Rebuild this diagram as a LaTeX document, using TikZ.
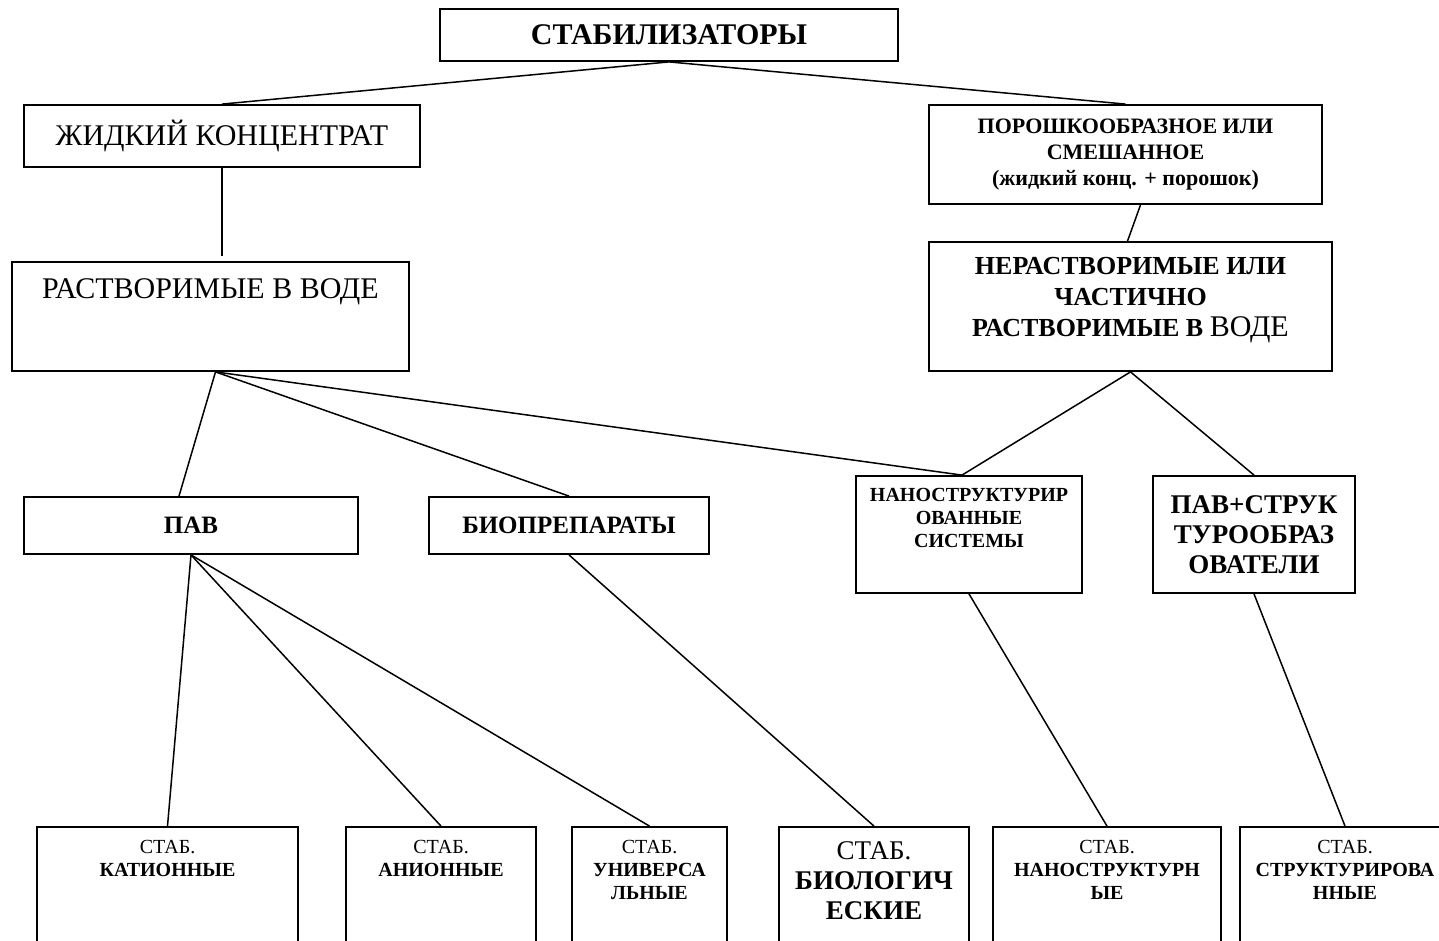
\documentclass[tikz,border=0pt]{standalone}
\usepackage{fontspec}
\setmainfont{Liberation Serif}
\usetikzlibrary{positioning,calc}

\begin{document}
\begin{tikzpicture}
  [x=0.5pt,y=-0.5pt,
   box/.style={rectangle,draw=black,line width=0.9pt,inner sep=0pt,align=center},
   txt/.style={inner sep=0pt,align=center},
   link/.style={black,line width=0.75pt},
   big/.style={font=\bfseries\fontsize{15}{18}\selectfont},
   plain/.style={font=\fontsize{15}{18}\selectfont},
   mid/.style={font=\bfseries\fontsize{12.5}{15}\selectfont},
   small/.style={font=\bfseries\fontsize{10}{11.5}\selectfont},
   leaf/.style={box,minimum height=76.5pt}]
		\path[use as bounding box] (0,0) rectangle (1439,941);
		\clip (0,0) rectangle (1439,941);
		% level 0 and 1
		\node (S) [box,big,minimum width=229pt,minimum height=26pt] at (669,35) {СТАБИЛИЗАТОРЫ};
		\node (S1) [box,plain,minimum width=198pt,minimum height=31pt] at (222,136) {ЖИДКИЙ КОНЦЕНТРАТ};
		\node (S2) [box,font=\bfseries\fontsize{11}{13}\selectfont,minimum width=196.5pt,minimum height=49.5pt] at (1125.5,154.5)
			{ПОРОШКООБРАЗНОЕ ИЛИ\\СМЕШАННОЕ\\(жидкий конц. + порошок)};
		% level 2
		\node (S11) [box,minimum width=198.5pt,minimum height=54.5pt] at (210.5,316.5) {};
		\node (T11) [txt,plain,below=8.5pt of S11.north] {РАСТВОРИМЫЕ В ВОДЕ};
		\node (S21) [box,minimum width=201.5pt,minimum height=64.5pt] at (1130.5,306.5) {};
		\node (T21) [txt,font=\bfseries\fontsize{13}{15.5}\selectfont,below=8pt of S21.north]
			{НЕРАСТВОРИМЫЕ ИЛИ\\ЧАСТИЧНО\\РАСТВОРИМЫЕ В {\mdseries\fontsize{15}{15}\selectfont ВОДЕ}};
		% level 3
		\node (S111) [box,mid,minimum width=167pt,minimum height=28.5pt] at (191,525.5) {ПАВ};
		\node (S112) [box,mid,minimum width=140pt,minimum height=28.5pt] at (569,525.5) {БИОПРЕПАРАТЫ};
		\node (S113) [box,minimum width=113pt,minimum height=58.5pt] at (969,534.5) {};
		\node (T113) [txt,small,below=6.5pt of S113.north] {НАНОСТРУКТУРИР\\ОВАННЫЕ\\СИСТЕМЫ};
		\node (S211) [box,font=\bfseries\fontsize{13.5}{15}\selectfont,minimum width=101pt,minimum height=58.5pt] at (1254,534.5)
			{ПАВ+СТРУК\\ТУРООБРАЗ\\ОВАТЕЛИ};
		% level 4
		\node (S1111) [leaf,minimum width=130.5pt] at (167.5,903.5) {};
		\node (T1111) [txt,small,below=7pt of S1111.north] {{\mdseries СТАБ.}\\КАТИОННЫЕ};
		\node (S1112) [leaf,minimum width=95pt] at (441,903.5) {};
		\node (T1112) [txt,small,below=7pt of S1112.north] {{\mdseries СТАБ.}\\АНИОННЫЕ};
		\node (S1113) [leaf,minimum width=77.5pt] at (649.5,903.5) {};
		\node (T1113) [txt,small,below=7pt of S1113.north] {{\mdseries СТАБ.}\\УНИВЕРСА\\ЛЬНЫЕ};
		\node (S1121) [leaf,minimum width=95pt] at (874,903.5) {};
		\node (T1121) [txt,font=\bfseries\fontsize{13.5}{15}\selectfont,below=7.5pt of S1121.north]
			{{\mdseries СТАБ.}\\БИОЛОГИЧ\\ЕСКИЕ};
		\node (S1131) [leaf,minimum width=114pt] at (1107,903.5) {};
		\node (T1131) [txt,small,below=7pt of S1131.north] {{\mdseries СТАБ.}\\НАНОСТРУКТУРН\\ЫЕ};
		\node (S2111) [leaf,minimum width=105pt] at (1345,903.5) {};
		\node (T2111) [txt,small,below=7pt of S2111.north] {{\mdseries СТАБ.}\\СТРУКТУРИРОВА\\ННЫЕ};
		% connectors
		\draw[link] (S.south) -- (S1.north);
		\draw[link] (S.south) -- (S2.north);
		\draw[link] (S1.south) -- ($(S1.south |- S11.north)+(0,-5)$);
		\draw[link] ($(S2.south)+(15,0)$) -- ($(S21.north)+(-3,0)$);
		\draw[link] ($(S11.south)+(5,0)$) -- ($(S111.north)+(-12,0)$);
		\draw[link] ($(S11.south)+(5,0)$) -- (S112.north);
		\draw[link] ($(S11.south)+(5,0)$) -- ($(S113.north)+(-7,0)$);
		\draw[link] (S21.south) -- ($(S113.north)+(-7,0)$);
		\draw[link] (S21.south) -- (S211.north);
		\draw[link] (S111.south) -- (S1111.north);
		\draw[link] (S111.south) -- (S1112.north);
		\draw[link] (S111.south) -- (S1113.north);
		\draw[link] (S112.south) -- (S1121.north);
		\draw[link] (S113.south) -- (S1131.north);
		\draw[link] (S211.south) -- (S2111.north);
\end{tikzpicture}
\end{document}
